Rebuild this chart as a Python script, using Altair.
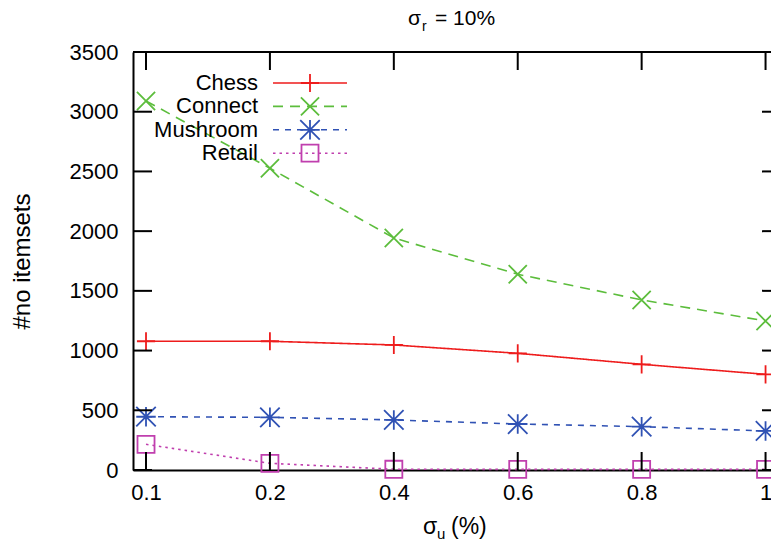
import json
import altair as alt
import pandas as pd

# sigma_u settings (plotted at evenly spaced positions)
x_labels = ["0.1", "0.2", "0.4", "0.6", "0.8", "1"]

# number of itemsets per dataset
chess = [1078, 1078, 1047, 977, 885, 801]
connect = [3090, 2527, 1943, 1639, 1424, 1248]
mushroom = [446, 441, 419, 385, 363, 327]
retail = [215, 56, 6, 5, 5, 5]

y_ticks = [0, 500, 1000, 1500, 2000, 2500, 3000, 3500]

W, H = 638, 418
FONT = "Liberation Sans"

series = [
    ("Chess", chess, "#ee1c1c", [1, 0], "M-1,0H1M0,-1V1", 330),
    ("Connect", connect, "#5cbd3c", [10, 7], "M-1,-1L1,1M-1,1L1,-1", 330),
    ("Mushroom", mushroom, "#3052b4", [6, 6], "M-1,-1L1,1M-1,1L1,-1M-1,0H1M0,-1V1", 380),
    ("Retail", retail, "#c03fae", [2.5, 4], "square", 290),
]

x_scale = alt.Scale(domain=[-0.105, 5.044], nice=False, zero=False)
y_scale = alt.Scale(domain=[0, 3500], nice=False, zero=False)

label_expr = json.dumps(x_labels) + "[datum.value]"

x_enc = alt.X(
    "idx:Q",
    scale=x_scale,
    axis=alt.Axis(
        values=list(range(len(x_labels))),
        labelExpr=label_expr,
        title=None,
        ticks=False,
        grid=False,
        domainColor="black",
        domainWidth=2,
        labelFont=FONT,
        labelFontSize=22,
        labelColor="black",
        labelPadding=12,
    ),
)
y_enc = alt.Y(
    "value:Q",
    scale=y_scale,
    axis=alt.Axis(
        values=y_ticks,
        format="d",
        title="#no itemsets",
        titleFont=FONT,
        titleFontSize=24,
        titleFontWeight="normal",
        titleColor="black",
        titleX=-111,
        titleY=H / 2,
        titleAngle=270,
        titleAlign="center",
        titleBaseline="middle",
        ticks=False,
        grid=False,
        domainColor="black",
        domainWidth=2,
        labelFont=FONT,
        labelFontSize=22,
        labelColor="black",
        labelPadding=15,
    ),
)

layers = []

# data lines and markers
for name, vals, color, dash, shape, size in series:
    df = pd.DataFrame({"idx": list(range(len(vals))), "value": vals, "series": name})
    base = alt.Chart(df)
    layers.append(
        base.mark_line(color=color, strokeWidth=1.6, strokeDash=dash).encode(x=x_enc, y=y_enc)
    )
    layers.append(
        base.mark_point(color=color, shape=shape, size=size, strokeWidth=1.8, filled=False, opacity=1).encode(
            x=alt.X("idx:Q", scale=x_scale), y=alt.Y("value:Q", scale=y_scale)
        )
    )

# inward ticks on all four sides
ytick_df = pd.DataFrame({"value": y_ticks})
xtick_df = pd.DataFrame({"idx": list(range(len(x_labels)))})
tick_style = dict(color="black", strokeWidth=2)
layers.append(
    alt.Chart(ytick_df).mark_rule(**tick_style).encode(
        y=alt.Y("value:Q", scale=y_scale), x=alt.value(0), x2=alt.value(19)
    )
)
layers.append(
    alt.Chart(ytick_df).mark_rule(**tick_style).encode(
        y=alt.Y("value:Q", scale=y_scale), x=alt.value(W - 9), x2=alt.value(W + 10)
    )
)
layers.append(
    alt.Chart(xtick_df).mark_rule(**tick_style).encode(
        x=alt.X("idx:Q", scale=x_scale), y=alt.value(H), y2=alt.value(H - 18)
    )
)
layers.append(
    alt.Chart(xtick_df).mark_rule(**tick_style).encode(
        x=alt.X("idx:Q", scale=x_scale), y=alt.value(0), y2=alt.value(18)
    )
)
# top border
layers.append(
    alt.Chart(xtick_df.head(1)).mark_rule(**tick_style).encode(
        x=alt.value(0), x2=alt.value(W + 10), y=alt.value(0)
    )
)

# key in the upper left corner: label, line sample, marker
leg_df = pd.DataFrame({"k": [0]})
for i, (name, vals, color, dash, shape, size) in enumerate(series):
    ly = 31 + i * 23.4
    layers.append(
        alt.Chart(leg_df).mark_text(
            text=name, align="right", baseline="middle", font=FONT, fontSize=22, color="black"
        ).encode(x=alt.value(125), y=alt.value(ly))
    )
    layers.append(
        alt.Chart(leg_df).mark_rule(color=color, strokeWidth=1.6, strokeDash=dash).encode(
            x=alt.value(140), x2=alt.value(214), y=alt.value(ly)
        )
    )
    layers.append(
        alt.Chart(leg_df).mark_point(color=color, shape=shape, size=size, strokeWidth=1.8, filled=False, opacity=1).encode(
            x=alt.value(177), y=alt.value(ly)
        )
    )

# title and x-axis title with subscripts
def txt(s, x, y, size, align="left"):
    return alt.Chart(leg_df).mark_text(
        text=s, align=align, baseline="alphabetic", font=FONT, fontSize=size, color="black"
    ).encode(x=alt.value(x), y=alt.value(y))

layers += [
    txt("σ", 275, -27, 21),
    txt("r", 289, -21, 14),
    txt("= 10%", 302, -27, 21),
    txt("σ", 290, 482, 23),
    txt("u", 304, 487, 15),
    txt("(%)", 318, 482, 23),
]

chart = (
    alt.layer(*layers)
    .properties(
        width=W,
        height=H,
        autosize=alt.AutoSizeParams(type="none"),
        padding={"left": 133, "top": 52, "right": 0, "bottom": 80},
        background="white",
    )
    .configure_view(stroke=None)
)

chart.save("out.html", embed_options={"renderer": "svg", "actions": False})
